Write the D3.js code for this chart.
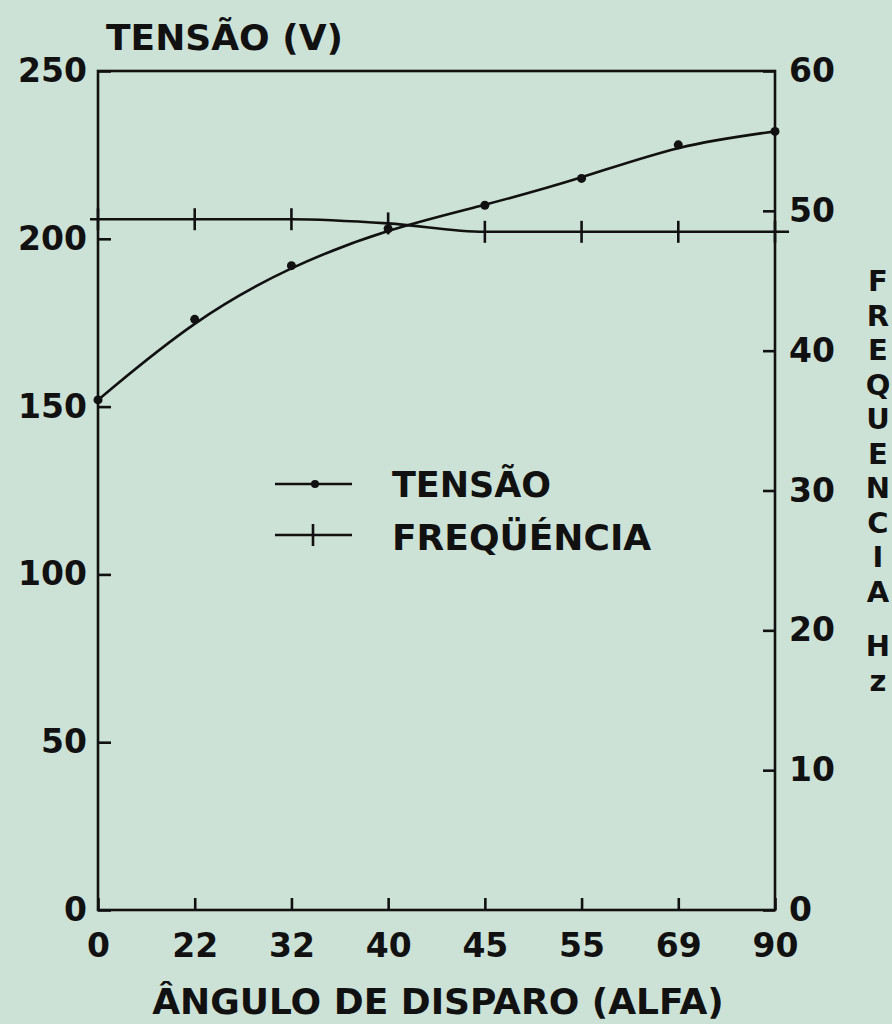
<!DOCTYPE html>
<html>
<head>
<meta charset="utf-8">
<script src="https://cdn.jsdelivr.net/npm/d3@7"></script>
<style>
  body { margin: 0; background: #cde2d6; }
  svg text { font-family: "DejaVu Sans", sans-serif; font-weight: bold; fill: #111; }
</style>
</head>
<body>
<div id="chart"></div>
<script>
var width = 892,
    height = 1024

// dados
var angulos = ['0', '22', '32', '40', '45', '55', '69', '90']
var tensao = [152, 176, 192, 203, 210, 218, 228, 232]
var frequencia = [49.4, 49.4, 49.4, 49.1, 48.5, 48.5, 48.5, 48.5]
var ticksTensao = [0, 50, 100, 150, 200, 250]
var ticksFreq = [0, 10, 20, 30, 40, 50, 60]
var tituloFreq = ['F', 'R', 'E', 'Q', 'U', 'E', 'N', 'C', 'I', 'A']
var tituloHz = ['H', 'z']

// "top" e' reservado no window, por isso os nomes com prefixo
var plotL = 98, plotR = 775, plotT = 71, plotB = 910

var svg = d3.select('#chart')
  .append('svg')
  .attr('width', width)
  .attr('height', height)

svg.append('rect')
  .attr('width', width)
  .attr('height', height)
  .attr('fill', '#cde2d6')

const x = d3.scalePoint().domain(angulos).range([plotL, plotR])
const yL = d3.scaleLinear().domain([0, 250]).range([plotB, plotT])
const yR = d3.scaleLinear().domain([0, 60]).range([plotB, plotT])

// moldura
svg.append('rect')
  .attr('x', plotL).attr('y', plotT)
  .attr('width', plotR - plotL).attr('height', plotB - plotT)
  .attr('fill', 'none')
  .attr('stroke', '#111')
  .attr('stroke-width', 2.6)

function styleAxis(g) {
  g.select('.domain').remove()
  g.selectAll('line').attr('stroke', '#111').attr('stroke-width', 2.6)
  g.selectAll('text')
    .attr('fill', '#111')
    .style('font-family', '"DejaVu Sans", sans-serif')
    .style('font-weight', 'bold')
    .style('font-size', '33px')
}

svg.append('g')
  .attr('transform', 'translate(' + plotL + ',0)')
  .call(d3.axisLeft(yL).tickValues(ticksTensao).tickSize(-13).tickPadding(11))
  .call(styleAxis)

svg.append('g')
  .attr('transform', 'translate(' + plotR + ',0)')
  .call(d3.axisRight(yR).tickValues(ticksFreq).tickSize(-12).tickPadding(14))
  .call(styleAxis)

svg.append('g')
  .attr('transform', 'translate(0,' + plotB + ')')
  .call(d3.axisBottom(x).tickSize(-12).tickPadding(24))
  .call(styleAxis)

// curva da tensao (curva ajustada, nao passa exatamente pelos pontos)
const lineT = d3.line()
  .x((d, i) => x(angulos[i]))
  .y(d => yL(d))
  .curve(d3.curveBasis)

svg.append('path')
  .datum(tensao)
  .attr('d', lineT)
  .attr('fill', 'none')
  .attr('stroke', '#111')
  .attr('stroke-width', 2.6)

svg.selectAll('.ponto')
  .data(tensao)
  .enter().append('circle')
  .attr('class', 'ponto')
  .attr('cx', (d, i) => x(angulos[i]))
  .attr('cy', d => yL(d))
  .attr('r', 4.5)
  .attr('fill', '#111')

// curva da frequencia (passa um pouco alem dos eixos)
var ptsF = frequencia.map((d, i) => [x(angulos[i]), yR(d)])
ptsF.unshift([plotL - 8, yR(frequencia[0])])
ptsF.push([plotR + 14, yR(frequencia[frequencia.length - 1])])

svg.append('path')
  .datum(ptsF)
  .attr('d', d3.line().curve(d3.curveMonotoneX))
  .attr('fill', 'none')
  .attr('stroke', '#111')
  .attr('stroke-width', 2.6)

svg.selectAll('.cruz')
  .data(frequencia)
  .enter().append('line')
  .attr('class', 'cruz')
  .attr('x1', (d, i) => x(angulos[i]))
  .attr('x2', (d, i) => x(angulos[i]))
  .attr('y1', d => yR(d) - 11)
  .attr('y2', d => yR(d) + 11)
  .attr('stroke', '#111')
  .attr('stroke-width', 2.6)

// legenda
var leg = svg.append('g')
leg.append('line').attr('x1', 275).attr('x2', 352).attr('y1', 484).attr('y2', 484)
  .attr('stroke', '#111').attr('stroke-width', 2.6)
leg.append('circle').attr('cx', 315).attr('cy', 484).attr('r', 4).attr('fill', '#111')
leg.append('text').attr('x', 392).attr('y', 497).style('font-size', '35px').text('TENSÃO')

leg.append('line').attr('x1', 275).attr('x2', 352).attr('y1', 535).attr('y2', 535)
  .attr('stroke', '#111').attr('stroke-width', 2.6)
leg.append('line').attr('x1', 313).attr('x2', 313).attr('y1', 524).attr('y2', 546)
  .attr('stroke', '#111').attr('stroke-width', 2.6)
leg.append('text').attr('x', 392).attr('y', 550).style('font-size', '36px').text('FREQÜÉNCIA')

// titulos
svg.append('text')
  .attr('x', 106).attr('y', 50)
  .style('font-size', '36px')
  .text('TENSÃO (V)')

svg.append('text')
  .attr('x', 438).attr('y', 1014)
  .attr('text-anchor', 'middle')
  .style('font-size', '36px')
  .text('ÂNGULO DE DISPARO (ALFA)')

svg.selectAll('.letraF')
  .data(tituloFreq)
  .enter().append('text')
  .attr('class', 'letraF')
  .attr('x', 878)
  .attr('y', (d, i) => 281 + i * 34.5)
  .attr('dy', '0.36em')
  .attr('text-anchor', 'middle')
  .style('font-size', '29px')
  .text(d => d)

svg.selectAll('.letraH')
  .data(tituloHz)
  .enter().append('text')
  .attr('class', 'letraH')
  .attr('x', 878)
  .attr('y', (d, i) => 646 + i * 34.5)
  .attr('dy', '0.36em')
  .attr('text-anchor', 'middle')
  .style('font-size', '29px')
  .text(d => d)
</script>
</body>
</html>
